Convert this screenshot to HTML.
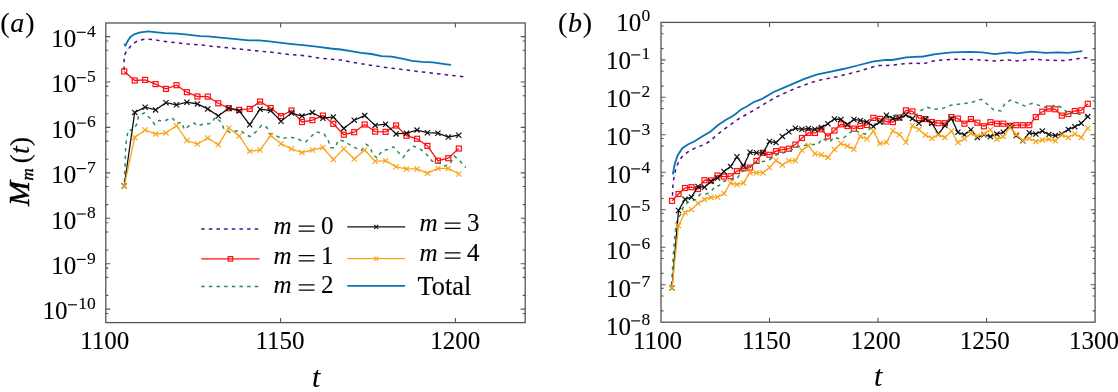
<!DOCTYPE html><html><head><meta charset="utf-8"><style>html,body{margin:0;padding:0;background:#fff;}svg{display:block;will-change:transform;}text{font-family:"Liberation Serif",serif;fill:#000;stroke:#000;stroke-width:0.12px;}text.nb{stroke:#000;stroke-width:0.45px;}</style></head><body>
<svg width="1118" height="392" viewBox="0 0 1118 392">
<rect x="105.8" y="23.0" width="419.40" height="299.60" fill="none" stroke="#555" stroke-width="1.3"/>
<path d="M105.8,309.1h4.5M525.2,309.1h-4.5" stroke="#555" stroke-width="1.1"/>
<path d="M105.8,313.5h2.5M525.2,313.5h-2.5" stroke="#555" stroke-width="1.1"/>
<path d="M105.8,263.7h4.5M525.2,263.7h-4.5" stroke="#555" stroke-width="1.1"/>
<path d="M105.8,268.1h2.5M525.2,268.1h-2.5" stroke="#555" stroke-width="1.1"/>
<path d="M105.8,277.4h2.5M525.2,277.4h-2.5" stroke="#555" stroke-width="1.1"/>
<path d="M105.8,295.4h2.5M525.2,295.4h-2.5" stroke="#555" stroke-width="1.1"/>
<path d="M105.8,218.3h4.5M525.2,218.3h-4.5" stroke="#555" stroke-width="1.1"/>
<path d="M105.8,222.7h2.5M525.2,222.7h-2.5" stroke="#555" stroke-width="1.1"/>
<path d="M105.8,232.0h2.5M525.2,232.0h-2.5" stroke="#555" stroke-width="1.1"/>
<path d="M105.8,250.0h2.5M525.2,250.0h-2.5" stroke="#555" stroke-width="1.1"/>
<path d="M105.8,172.9h4.5M525.2,172.9h-4.5" stroke="#555" stroke-width="1.1"/>
<path d="M105.8,177.3h2.5M525.2,177.3h-2.5" stroke="#555" stroke-width="1.1"/>
<path d="M105.8,186.5h2.5M525.2,186.5h-2.5" stroke="#555" stroke-width="1.1"/>
<path d="M105.8,204.6h2.5M525.2,204.6h-2.5" stroke="#555" stroke-width="1.1"/>
<path d="M105.8,127.4h4.5M525.2,127.4h-4.5" stroke="#555" stroke-width="1.1"/>
<path d="M105.8,131.8h2.5M525.2,131.8h-2.5" stroke="#555" stroke-width="1.1"/>
<path d="M105.8,141.1h2.5M525.2,141.1h-2.5" stroke="#555" stroke-width="1.1"/>
<path d="M105.8,159.2h2.5M525.2,159.2h-2.5" stroke="#555" stroke-width="1.1"/>
<path d="M105.8,82.0h4.5M525.2,82.0h-4.5" stroke="#555" stroke-width="1.1"/>
<path d="M105.8,86.4h2.5M525.2,86.4h-2.5" stroke="#555" stroke-width="1.1"/>
<path d="M105.8,95.7h2.5M525.2,95.7h-2.5" stroke="#555" stroke-width="1.1"/>
<path d="M105.8,113.8h2.5M525.2,113.8h-2.5" stroke="#555" stroke-width="1.1"/>
<path d="M105.8,36.6h4.5M525.2,36.6h-4.5" stroke="#555" stroke-width="1.1"/>
<path d="M105.8,41.0h2.5M525.2,41.0h-2.5" stroke="#555" stroke-width="1.1"/>
<path d="M105.8,50.3h2.5M525.2,50.3h-2.5" stroke="#555" stroke-width="1.1"/>
<path d="M105.8,68.3h2.5M525.2,68.3h-2.5" stroke="#555" stroke-width="1.1"/>
<path d="M280.6,322.6v-4.5M280.6,23.0v4.5" stroke="#555" stroke-width="1.1"/>
<path d="M455.4,322.6v-4.5M455.4,23.0v4.5" stroke="#555" stroke-width="1.1"/>
<rect x="661.0" y="22.4" width="434.10" height="299.80" fill="none" stroke="#555" stroke-width="1.3"/>
<path d="M661.0,284.7h4.5M1095.1,284.7h-4.5" stroke="#555" stroke-width="1.1"/>
<path d="M661.0,288.4h2.5M1095.1,288.4h-2.5" stroke="#555" stroke-width="1.1"/>
<path d="M661.0,296.0h2.5M1095.1,296.0h-2.5" stroke="#555" stroke-width="1.1"/>
<path d="M661.0,310.9h2.5M1095.1,310.9h-2.5" stroke="#555" stroke-width="1.1"/>
<path d="M661.0,247.3h4.5M1095.1,247.3h-4.5" stroke="#555" stroke-width="1.1"/>
<path d="M661.0,250.9h2.5M1095.1,250.9h-2.5" stroke="#555" stroke-width="1.1"/>
<path d="M661.0,258.5h2.5M1095.1,258.5h-2.5" stroke="#555" stroke-width="1.1"/>
<path d="M661.0,273.4h2.5M1095.1,273.4h-2.5" stroke="#555" stroke-width="1.1"/>
<path d="M661.0,209.8h4.5M1095.1,209.8h-4.5" stroke="#555" stroke-width="1.1"/>
<path d="M661.0,213.4h2.5M1095.1,213.4h-2.5" stroke="#555" stroke-width="1.1"/>
<path d="M661.0,221.1h2.5M1095.1,221.1h-2.5" stroke="#555" stroke-width="1.1"/>
<path d="M661.0,236.0h2.5M1095.1,236.0h-2.5" stroke="#555" stroke-width="1.1"/>
<path d="M661.0,172.3h4.5M1095.1,172.3h-4.5" stroke="#555" stroke-width="1.1"/>
<path d="M661.0,175.9h2.5M1095.1,175.9h-2.5" stroke="#555" stroke-width="1.1"/>
<path d="M661.0,183.6h2.5M1095.1,183.6h-2.5" stroke="#555" stroke-width="1.1"/>
<path d="M661.0,198.5h2.5M1095.1,198.5h-2.5" stroke="#555" stroke-width="1.1"/>
<path d="M661.0,134.8h4.5M1095.1,134.8h-4.5" stroke="#555" stroke-width="1.1"/>
<path d="M661.0,138.5h2.5M1095.1,138.5h-2.5" stroke="#555" stroke-width="1.1"/>
<path d="M661.0,146.1h2.5M1095.1,146.1h-2.5" stroke="#555" stroke-width="1.1"/>
<path d="M661.0,161.0h2.5M1095.1,161.0h-2.5" stroke="#555" stroke-width="1.1"/>
<path d="M661.0,97.3h4.5M1095.1,97.3h-4.5" stroke="#555" stroke-width="1.1"/>
<path d="M661.0,101.0h2.5M1095.1,101.0h-2.5" stroke="#555" stroke-width="1.1"/>
<path d="M661.0,108.6h2.5M1095.1,108.6h-2.5" stroke="#555" stroke-width="1.1"/>
<path d="M661.0,123.5h2.5M1095.1,123.5h-2.5" stroke="#555" stroke-width="1.1"/>
<path d="M661.0,59.9h4.5M1095.1,59.9h-4.5" stroke="#555" stroke-width="1.1"/>
<path d="M661.0,63.5h2.5M1095.1,63.5h-2.5" stroke="#555" stroke-width="1.1"/>
<path d="M661.0,71.2h2.5M1095.1,71.2h-2.5" stroke="#555" stroke-width="1.1"/>
<path d="M661.0,86.1h2.5M1095.1,86.1h-2.5" stroke="#555" stroke-width="1.1"/>
<path d="M661.0,26.0h2.5M1095.1,26.0h-2.5" stroke="#555" stroke-width="1.1"/>
<path d="M661.0,33.7h2.5M1095.1,33.7h-2.5" stroke="#555" stroke-width="1.1"/>
<path d="M661.0,48.6h2.5M1095.1,48.6h-2.5" stroke="#555" stroke-width="1.1"/>
<path d="M769.5,322.2v-4.5M769.5,22.4v4.5" stroke="#555" stroke-width="1.1"/>
<path d="M878.0,322.2v-4.5M878.0,22.4v4.5" stroke="#555" stroke-width="1.1"/>
<path d="M986.6,322.2v-4.5M986.6,22.4v4.5" stroke="#555" stroke-width="1.1"/>
<polyline points="124.0,70.0 124.1,64.3 124.1,55.9 126.2,51.7 129.0,48.2 131.9,44.7 137.5,40.7 145.9,39.0 154.3,39.7 162.8,41.2 187.6,44.0 205.5,45.4 213.0,46.6 220.7,47.0 228.4,47.9 248.9,50.1 269.3,52.0 289.7,54.6 300.0,55.2 320.4,58.1 340.8,60.1 361.2,63.8 381.6,66.9 402.0,69.5 422.4,72.0 442.9,74.4 466.3,77.1" fill="none" stroke="#4b0c88" stroke-width="1.5" stroke-dasharray="3.5 4.15"/>
<polyline points="124.2,71.4 134.7,80.5 145.1,79.9 155.6,84.1 166.0,88.9 176.5,85.2 186.9,92.2 197.4,96.5 207.8,96.6 218.3,103.3 228.8,108.2 239.2,109.9 249.7,108.9 260.1,101.6 270.6,108.0 281.0,116.1 291.5,110.5 302.0,122.0 312.4,120.2 322.9,115.6 333.3,123.8 343.8,134.7 354.2,132.2 364.7,124.5 375.1,131.6 385.6,131.9 396.1,125.5 406.5,135.7 417.0,138.8 427.4,145.9 437.9,160.7 448.3,158.2 458.8,148.5" fill="none" stroke="#ff1010" stroke-width="1.3"/>
<rect x="121.7" y="68.9" width="5.0" height="5.0" fill="none" stroke="#ff1010" stroke-width="1.2"/><rect x="132.2" y="78.0" width="5.0" height="5.0" fill="none" stroke="#ff1010" stroke-width="1.2"/><rect x="142.6" y="77.4" width="5.0" height="5.0" fill="none" stroke="#ff1010" stroke-width="1.2"/><rect x="153.1" y="81.6" width="5.0" height="5.0" fill="none" stroke="#ff1010" stroke-width="1.2"/><rect x="163.5" y="86.4" width="5.0" height="5.0" fill="none" stroke="#ff1010" stroke-width="1.2"/><rect x="174.0" y="82.7" width="5.0" height="5.0" fill="none" stroke="#ff1010" stroke-width="1.2"/><rect x="184.4" y="89.7" width="5.0" height="5.0" fill="none" stroke="#ff1010" stroke-width="1.2"/><rect x="194.9" y="94.0" width="5.0" height="5.0" fill="none" stroke="#ff1010" stroke-width="1.2"/><rect x="205.3" y="94.1" width="5.0" height="5.0" fill="none" stroke="#ff1010" stroke-width="1.2"/><rect x="215.8" y="100.8" width="5.0" height="5.0" fill="none" stroke="#ff1010" stroke-width="1.2"/><rect x="226.3" y="105.7" width="5.0" height="5.0" fill="none" stroke="#ff1010" stroke-width="1.2"/><rect x="236.7" y="107.4" width="5.0" height="5.0" fill="none" stroke="#ff1010" stroke-width="1.2"/><rect x="247.2" y="106.4" width="5.0" height="5.0" fill="none" stroke="#ff1010" stroke-width="1.2"/><rect x="257.6" y="99.1" width="5.0" height="5.0" fill="none" stroke="#ff1010" stroke-width="1.2"/><rect x="268.1" y="105.5" width="5.0" height="5.0" fill="none" stroke="#ff1010" stroke-width="1.2"/><rect x="278.5" y="113.6" width="5.0" height="5.0" fill="none" stroke="#ff1010" stroke-width="1.2"/><rect x="289.0" y="108.0" width="5.0" height="5.0" fill="none" stroke="#ff1010" stroke-width="1.2"/><rect x="299.5" y="119.5" width="5.0" height="5.0" fill="none" stroke="#ff1010" stroke-width="1.2"/><rect x="309.9" y="117.7" width="5.0" height="5.0" fill="none" stroke="#ff1010" stroke-width="1.2"/><rect x="320.4" y="113.1" width="5.0" height="5.0" fill="none" stroke="#ff1010" stroke-width="1.2"/><rect x="330.8" y="121.3" width="5.0" height="5.0" fill="none" stroke="#ff1010" stroke-width="1.2"/><rect x="341.3" y="132.2" width="5.0" height="5.0" fill="none" stroke="#ff1010" stroke-width="1.2"/><rect x="351.7" y="129.7" width="5.0" height="5.0" fill="none" stroke="#ff1010" stroke-width="1.2"/><rect x="362.2" y="122.0" width="5.0" height="5.0" fill="none" stroke="#ff1010" stroke-width="1.2"/><rect x="372.6" y="129.1" width="5.0" height="5.0" fill="none" stroke="#ff1010" stroke-width="1.2"/><rect x="383.1" y="129.4" width="5.0" height="5.0" fill="none" stroke="#ff1010" stroke-width="1.2"/><rect x="393.6" y="123.0" width="5.0" height="5.0" fill="none" stroke="#ff1010" stroke-width="1.2"/><rect x="404.0" y="133.2" width="5.0" height="5.0" fill="none" stroke="#ff1010" stroke-width="1.2"/><rect x="414.5" y="136.3" width="5.0" height="5.0" fill="none" stroke="#ff1010" stroke-width="1.2"/><rect x="424.9" y="143.4" width="5.0" height="5.0" fill="none" stroke="#ff1010" stroke-width="1.2"/><rect x="435.4" y="158.2" width="5.0" height="5.0" fill="none" stroke="#ff1010" stroke-width="1.2"/><rect x="445.8" y="155.7" width="5.0" height="5.0" fill="none" stroke="#ff1010" stroke-width="1.2"/><rect x="456.3" y="146.0" width="5.0" height="5.0" fill="none" stroke="#ff1010" stroke-width="1.2"/>
<polyline points="124.5,182.0 125.7,145.3 126.9,137.7 128.2,130.0 133.3,130.0 137.2,123.6 138.4,116.0 144.2,112.8 150.1,118.3 154.7,124.4 159.3,120.3 161.3,121.3 165.9,120.3 172.0,117.8 177.1,123.4 181.7,122.3 184.3,129.5 188.4,126.4 194.0,122.9 197.6,125.9 204.1,123.9 211.2,123.4 215.3,117.2 220.9,121.8 224.0,129.0 230.6,132.6 233.7,131.7 239.8,130.0 245.9,134.6 250.0,136.6 256.5,131.3 261.6,125.2 266.7,127.2 269.8,133.4 276.4,135.9 281.5,138.5 288.2,137.4 295.3,137.7 301.0,140.5 305.6,142.0 310.7,136.9 316.3,131.8 324.0,133.9 328.1,140.0 330.6,147.7 335.2,147.7 338.3,140.0 341.8,140.5 348.0,143.6 354.8,147.6 361.4,150.4 366.0,144.3 370.1,146.8 372.7,154.5 377.2,158.1 381.8,150.9 388.0,149.4 393.6,146.8 397.6,151.6 403.3,157.3 407.8,150.9 414.1,146.2 421.1,149.7 426.9,154.8 432.0,161.1 438.4,162.4 443.5,166.3 449.8,164.3 454.3,156.0 459.4,160.5 465.7,167.6" fill="none" stroke="#2a8a55" stroke-width="1.5" stroke-dasharray="3.5 4.15"/>
<polyline points="124.2,186.0 134.7,112.4 145.1,107.2 155.6,109.9 166.0,102.7 176.5,104.8 186.9,102.2 197.4,104.0 207.8,108.9 218.3,116.0 228.8,108.2 239.2,110.9 249.7,124.7 260.1,109.2 270.6,110.5 281.0,121.2 291.5,113.1 302.0,116.1 312.4,112.6 322.9,118.2 333.3,116.9 343.8,128.4 354.2,120.2 364.7,115.6 375.1,125.4 385.6,124.2 396.1,133.9 406.5,133.2 417.0,130.1 427.4,132.7 437.9,133.2 448.3,137.0 458.8,135.2" fill="none" stroke="#111" stroke-width="1.3"/>
<path d="M121.6,183.4L126.8,188.6M121.6,188.6L126.8,183.4" stroke="#111" stroke-width="1.2" fill="none"/><path d="M132.1,109.8L137.3,115.0M132.1,115.0L137.3,109.8" stroke="#111" stroke-width="1.2" fill="none"/><path d="M142.5,104.6L147.7,109.8M142.5,109.8L147.7,104.6" stroke="#111" stroke-width="1.2" fill="none"/><path d="M153.0,107.3L158.2,112.5M153.0,112.5L158.2,107.3" stroke="#111" stroke-width="1.2" fill="none"/><path d="M163.4,100.1L168.6,105.3M163.4,105.3L168.6,100.1" stroke="#111" stroke-width="1.2" fill="none"/><path d="M173.9,102.2L179.1,107.4M173.9,107.4L179.1,102.2" stroke="#111" stroke-width="1.2" fill="none"/><path d="M184.3,99.6L189.5,104.8M184.3,104.8L189.5,99.6" stroke="#111" stroke-width="1.2" fill="none"/><path d="M194.8,101.4L200.0,106.6M194.8,106.6L200.0,101.4" stroke="#111" stroke-width="1.2" fill="none"/><path d="M205.2,106.3L210.4,111.5M205.2,111.5L210.4,106.3" stroke="#111" stroke-width="1.2" fill="none"/><path d="M215.7,113.4L220.9,118.6M215.7,118.6L220.9,113.4" stroke="#111" stroke-width="1.2" fill="none"/><path d="M226.2,105.6L231.4,110.8M226.2,110.8L231.4,105.6" stroke="#111" stroke-width="1.2" fill="none"/><path d="M236.6,108.3L241.8,113.5M236.6,113.5L241.8,108.3" stroke="#111" stroke-width="1.2" fill="none"/><path d="M247.1,122.1L252.3,127.3M247.1,127.3L252.3,122.1" stroke="#111" stroke-width="1.2" fill="none"/><path d="M257.5,106.6L262.7,111.8M257.5,111.8L262.7,106.6" stroke="#111" stroke-width="1.2" fill="none"/><path d="M268.0,107.9L273.2,113.1M268.0,113.1L273.2,107.9" stroke="#111" stroke-width="1.2" fill="none"/><path d="M278.4,118.6L283.6,123.8M278.4,123.8L283.6,118.6" stroke="#111" stroke-width="1.2" fill="none"/><path d="M288.9,110.5L294.1,115.7M288.9,115.7L294.1,110.5" stroke="#111" stroke-width="1.2" fill="none"/><path d="M299.4,113.5L304.6,118.7M299.4,118.7L304.6,113.5" stroke="#111" stroke-width="1.2" fill="none"/><path d="M309.8,110.0L315.0,115.2M309.8,115.2L315.0,110.0" stroke="#111" stroke-width="1.2" fill="none"/><path d="M320.3,115.6L325.5,120.8M320.3,120.8L325.5,115.6" stroke="#111" stroke-width="1.2" fill="none"/><path d="M330.7,114.3L335.9,119.5M330.7,119.5L335.9,114.3" stroke="#111" stroke-width="1.2" fill="none"/><path d="M341.2,125.8L346.4,131.0M341.2,131.0L346.4,125.8" stroke="#111" stroke-width="1.2" fill="none"/><path d="M351.6,117.6L356.8,122.8M351.6,122.8L356.8,117.6" stroke="#111" stroke-width="1.2" fill="none"/><path d="M362.1,113.0L367.3,118.2M362.1,118.2L367.3,113.0" stroke="#111" stroke-width="1.2" fill="none"/><path d="M372.5,122.8L377.7,128.0M372.5,128.0L377.7,122.8" stroke="#111" stroke-width="1.2" fill="none"/><path d="M383.0,121.6L388.2,126.8M383.0,126.8L388.2,121.6" stroke="#111" stroke-width="1.2" fill="none"/><path d="M393.5,131.3L398.7,136.5M393.5,136.5L398.7,131.3" stroke="#111" stroke-width="1.2" fill="none"/><path d="M403.9,130.6L409.1,135.8M403.9,135.8L409.1,130.6" stroke="#111" stroke-width="1.2" fill="none"/><path d="M414.4,127.5L419.6,132.7M414.4,132.7L419.6,127.5" stroke="#111" stroke-width="1.2" fill="none"/><path d="M424.8,130.1L430.0,135.3M424.8,135.3L430.0,130.1" stroke="#111" stroke-width="1.2" fill="none"/><path d="M435.3,130.6L440.5,135.8M435.3,135.8L440.5,130.6" stroke="#111" stroke-width="1.2" fill="none"/><path d="M445.7,134.4L450.9,139.6M445.7,139.6L450.9,134.4" stroke="#111" stroke-width="1.2" fill="none"/><path d="M456.2,132.6L461.4,137.8M456.2,137.8L461.4,132.6" stroke="#111" stroke-width="1.2" fill="none"/>
<polyline points="124.2,186.3 134.7,137.4 145.1,129.9 155.6,134.1 166.0,132.9 176.5,125.7 186.9,140.5 197.4,144.1 207.8,138.0 218.3,144.8 228.8,128.0 239.2,135.9 249.7,151.3 260.1,150.0 270.6,135.5 281.0,143.7 291.5,148.8 302.0,152.6 312.4,150.0 322.9,147.5 333.3,159.5 343.8,148.8 354.2,159.0 364.7,150.0 375.1,161.3 385.6,160.7 396.1,166.8 406.5,168.9 417.0,168.9 427.4,173.2 437.9,168.4 448.3,168.4 458.8,174.0" fill="none" stroke="#f9a51a" stroke-width="1.3"/>
<path d="M121.6,183.7L126.8,188.9M121.6,188.9L126.8,183.7" stroke="#f9a51a" stroke-width="1.2" fill="none"/><path d="M132.1,134.8L137.3,140.0M132.1,140.0L137.3,134.8" stroke="#f9a51a" stroke-width="1.2" fill="none"/><path d="M142.5,127.3L147.7,132.5M142.5,132.5L147.7,127.3" stroke="#f9a51a" stroke-width="1.2" fill="none"/><path d="M153.0,131.5L158.2,136.7M153.0,136.7L158.2,131.5" stroke="#f9a51a" stroke-width="1.2" fill="none"/><path d="M163.4,130.3L168.6,135.5M163.4,135.5L168.6,130.3" stroke="#f9a51a" stroke-width="1.2" fill="none"/><path d="M173.9,123.1L179.1,128.3M173.9,128.3L179.1,123.1" stroke="#f9a51a" stroke-width="1.2" fill="none"/><path d="M184.3,137.9L189.5,143.1M184.3,143.1L189.5,137.9" stroke="#f9a51a" stroke-width="1.2" fill="none"/><path d="M194.8,141.5L200.0,146.7M194.8,146.7L200.0,141.5" stroke="#f9a51a" stroke-width="1.2" fill="none"/><path d="M205.2,135.4L210.4,140.6M205.2,140.6L210.4,135.4" stroke="#f9a51a" stroke-width="1.2" fill="none"/><path d="M215.7,142.2L220.9,147.4M215.7,147.4L220.9,142.2" stroke="#f9a51a" stroke-width="1.2" fill="none"/><path d="M226.2,125.4L231.4,130.6M226.2,130.6L231.4,125.4" stroke="#f9a51a" stroke-width="1.2" fill="none"/><path d="M236.6,133.3L241.8,138.5M236.6,138.5L241.8,133.3" stroke="#f9a51a" stroke-width="1.2" fill="none"/><path d="M247.1,148.7L252.3,153.9M247.1,153.9L252.3,148.7" stroke="#f9a51a" stroke-width="1.2" fill="none"/><path d="M257.5,147.4L262.7,152.6M257.5,152.6L262.7,147.4" stroke="#f9a51a" stroke-width="1.2" fill="none"/><path d="M268.0,132.9L273.2,138.1M268.0,138.1L273.2,132.9" stroke="#f9a51a" stroke-width="1.2" fill="none"/><path d="M278.4,141.1L283.6,146.3M278.4,146.3L283.6,141.1" stroke="#f9a51a" stroke-width="1.2" fill="none"/><path d="M288.9,146.2L294.1,151.4M288.9,151.4L294.1,146.2" stroke="#f9a51a" stroke-width="1.2" fill="none"/><path d="M299.4,150.0L304.6,155.2M299.4,155.2L304.6,150.0" stroke="#f9a51a" stroke-width="1.2" fill="none"/><path d="M309.8,147.4L315.0,152.6M309.8,152.6L315.0,147.4" stroke="#f9a51a" stroke-width="1.2" fill="none"/><path d="M320.3,144.9L325.5,150.1M320.3,150.1L325.5,144.9" stroke="#f9a51a" stroke-width="1.2" fill="none"/><path d="M330.7,156.9L335.9,162.1M330.7,162.1L335.9,156.9" stroke="#f9a51a" stroke-width="1.2" fill="none"/><path d="M341.2,146.2L346.4,151.4M341.2,151.4L346.4,146.2" stroke="#f9a51a" stroke-width="1.2" fill="none"/><path d="M351.6,156.4L356.8,161.6M351.6,161.6L356.8,156.4" stroke="#f9a51a" stroke-width="1.2" fill="none"/><path d="M362.1,147.4L367.3,152.6M362.1,152.6L367.3,147.4" stroke="#f9a51a" stroke-width="1.2" fill="none"/><path d="M372.5,158.7L377.7,163.9M372.5,163.9L377.7,158.7" stroke="#f9a51a" stroke-width="1.2" fill="none"/><path d="M383.0,158.1L388.2,163.3M383.0,163.3L388.2,158.1" stroke="#f9a51a" stroke-width="1.2" fill="none"/><path d="M393.5,164.2L398.7,169.4M393.5,169.4L398.7,164.2" stroke="#f9a51a" stroke-width="1.2" fill="none"/><path d="M403.9,166.3L409.1,171.5M403.9,171.5L409.1,166.3" stroke="#f9a51a" stroke-width="1.2" fill="none"/><path d="M414.4,166.3L419.6,171.5M414.4,171.5L419.6,166.3" stroke="#f9a51a" stroke-width="1.2" fill="none"/><path d="M424.8,170.6L430.0,175.8M424.8,175.8L430.0,170.6" stroke="#f9a51a" stroke-width="1.2" fill="none"/><path d="M435.3,165.8L440.5,171.0M435.3,171.0L440.5,165.8" stroke="#f9a51a" stroke-width="1.2" fill="none"/><path d="M445.7,165.8L450.9,171.0M445.7,171.0L450.9,165.8" stroke="#f9a51a" stroke-width="1.2" fill="none"/><path d="M456.2,171.4L461.4,176.6M456.2,176.6L461.4,171.4" stroke="#f9a51a" stroke-width="1.2" fill="none"/>
<polyline points="124.1,44.0 125.5,45.4 127.6,41.2 130.4,36.9 134.7,34.1 140.3,32.3 148.7,31.3 157.1,32.3 165.0,33.1 177.4,33.6 187.6,34.6 200.0,36.1 208.0,36.3 228.4,38.3 248.9,40.3 259.1,40.3 269.3,41.4 289.7,43.8 300.0,44.8 310.2,45.9 320.4,47.1 330.6,48.5 340.8,49.5 351.0,51.2 361.2,52.8 371.4,54.0 381.6,56.1 391.8,56.7 402.0,58.7 412.2,60.8 422.4,61.8 432.7,62.4 442.9,63.8 451.0,64.8" fill="none" stroke="#0a72b4" stroke-width="1.8"/>
<polyline points="672.5,195.6 672.9,186.0 673.5,180.0 675.8,168.9 679.4,160.0 683.9,154.6 689.2,151.1 696.4,147.5 703.5,144.8 709.8,141.3 717.8,134.1 726.0,127.9 739.1,118.6 755.4,109.4 775.8,97.1 796.2,88.0 816.6,80.8 837.0,76.7 857.4,71.6 877.9,65.5 888.1,65.5 906.4,63.5 915.0,63.1 923.2,63.7 935.4,60.6 955.8,59.2 976.2,59.6 994.6,61.0 1006.8,60.0 1019.1,61.0 1033.4,59.2 1049.7,60.2 1064.0,60.6 1078.3,58.6 1088.5,57.6" fill="none" stroke="#4b0c88" stroke-width="1.5" stroke-dasharray="3.5 4.15"/>
<polyline points="672.0,200.8 678.5,194.0 685.0,188.0 691.5,187.2 698.0,189.0 704.5,180.2 711.0,180.5 717.5,175.5 724.0,176.6 730.5,176.2 737.0,171.1 743.5,168.4 750.0,167.6 756.5,160.9 763.0,152.8 769.5,154.8 776.0,151.2 782.4,149.7 788.9,148.7 795.4,144.6 801.9,138.0 808.4,132.9 814.9,132.9 821.4,129.3 827.9,136.4 834.4,130.5 840.9,124.3 847.4,126.0 853.9,128.6 860.4,126.0 866.9,125.0 873.4,117.9 879.9,118.9 886.4,121.5 892.9,122.1 899.4,117.6 905.9,110.4 912.4,111.4 918.9,118.1 925.4,119.1 931.9,122.1 938.4,123.2 944.9,123.2 951.4,117.1 957.9,118.6 964.4,123.7 970.9,119.1 977.4,122.7 983.9,126.3 990.4,122.2 996.9,123.7 1003.3,123.7 1009.8,125.8 1016.3,125.2 1022.8,125.2 1029.3,125.2 1035.8,117.1 1042.3,111.7 1048.8,108.6 1055.3,109.3 1061.8,115.6 1068.3,114.0 1074.8,111.0 1081.3,110.4 1087.8,103.8" fill="none" stroke="#ff1010" stroke-width="1.3"/>
<rect x="669.5" y="198.3" width="5.0" height="5.0" fill="none" stroke="#ff1010" stroke-width="1.2"/><rect x="676.0" y="191.5" width="5.0" height="5.0" fill="none" stroke="#ff1010" stroke-width="1.2"/><rect x="682.5" y="185.5" width="5.0" height="5.0" fill="none" stroke="#ff1010" stroke-width="1.2"/><rect x="689.0" y="184.7" width="5.0" height="5.0" fill="none" stroke="#ff1010" stroke-width="1.2"/><rect x="695.5" y="186.5" width="5.0" height="5.0" fill="none" stroke="#ff1010" stroke-width="1.2"/><rect x="702.0" y="177.7" width="5.0" height="5.0" fill="none" stroke="#ff1010" stroke-width="1.2"/><rect x="708.5" y="178.0" width="5.0" height="5.0" fill="none" stroke="#ff1010" stroke-width="1.2"/><rect x="715.0" y="173.0" width="5.0" height="5.0" fill="none" stroke="#ff1010" stroke-width="1.2"/><rect x="721.5" y="174.1" width="5.0" height="5.0" fill="none" stroke="#ff1010" stroke-width="1.2"/><rect x="728.0" y="173.7" width="5.0" height="5.0" fill="none" stroke="#ff1010" stroke-width="1.2"/><rect x="734.5" y="168.6" width="5.0" height="5.0" fill="none" stroke="#ff1010" stroke-width="1.2"/><rect x="741.0" y="165.9" width="5.0" height="5.0" fill="none" stroke="#ff1010" stroke-width="1.2"/><rect x="747.5" y="165.1" width="5.0" height="5.0" fill="none" stroke="#ff1010" stroke-width="1.2"/><rect x="754.0" y="158.4" width="5.0" height="5.0" fill="none" stroke="#ff1010" stroke-width="1.2"/><rect x="760.5" y="150.3" width="5.0" height="5.0" fill="none" stroke="#ff1010" stroke-width="1.2"/><rect x="767.0" y="152.3" width="5.0" height="5.0" fill="none" stroke="#ff1010" stroke-width="1.2"/><rect x="773.5" y="148.7" width="5.0" height="5.0" fill="none" stroke="#ff1010" stroke-width="1.2"/><rect x="779.9" y="147.2" width="5.0" height="5.0" fill="none" stroke="#ff1010" stroke-width="1.2"/><rect x="786.4" y="146.2" width="5.0" height="5.0" fill="none" stroke="#ff1010" stroke-width="1.2"/><rect x="792.9" y="142.1" width="5.0" height="5.0" fill="none" stroke="#ff1010" stroke-width="1.2"/><rect x="799.4" y="135.5" width="5.0" height="5.0" fill="none" stroke="#ff1010" stroke-width="1.2"/><rect x="805.9" y="130.4" width="5.0" height="5.0" fill="none" stroke="#ff1010" stroke-width="1.2"/><rect x="812.4" y="130.4" width="5.0" height="5.0" fill="none" stroke="#ff1010" stroke-width="1.2"/><rect x="818.9" y="126.8" width="5.0" height="5.0" fill="none" stroke="#ff1010" stroke-width="1.2"/><rect x="825.4" y="133.9" width="5.0" height="5.0" fill="none" stroke="#ff1010" stroke-width="1.2"/><rect x="831.9" y="128.0" width="5.0" height="5.0" fill="none" stroke="#ff1010" stroke-width="1.2"/><rect x="838.4" y="121.8" width="5.0" height="5.0" fill="none" stroke="#ff1010" stroke-width="1.2"/><rect x="844.9" y="123.5" width="5.0" height="5.0" fill="none" stroke="#ff1010" stroke-width="1.2"/><rect x="851.4" y="126.1" width="5.0" height="5.0" fill="none" stroke="#ff1010" stroke-width="1.2"/><rect x="857.9" y="123.5" width="5.0" height="5.0" fill="none" stroke="#ff1010" stroke-width="1.2"/><rect x="864.4" y="122.5" width="5.0" height="5.0" fill="none" stroke="#ff1010" stroke-width="1.2"/><rect x="870.9" y="115.4" width="5.0" height="5.0" fill="none" stroke="#ff1010" stroke-width="1.2"/><rect x="877.4" y="116.4" width="5.0" height="5.0" fill="none" stroke="#ff1010" stroke-width="1.2"/><rect x="883.9" y="119.0" width="5.0" height="5.0" fill="none" stroke="#ff1010" stroke-width="1.2"/><rect x="890.4" y="119.6" width="5.0" height="5.0" fill="none" stroke="#ff1010" stroke-width="1.2"/><rect x="896.9" y="115.1" width="5.0" height="5.0" fill="none" stroke="#ff1010" stroke-width="1.2"/><rect x="903.4" y="107.9" width="5.0" height="5.0" fill="none" stroke="#ff1010" stroke-width="1.2"/><rect x="909.9" y="108.9" width="5.0" height="5.0" fill="none" stroke="#ff1010" stroke-width="1.2"/><rect x="916.4" y="115.6" width="5.0" height="5.0" fill="none" stroke="#ff1010" stroke-width="1.2"/><rect x="922.9" y="116.6" width="5.0" height="5.0" fill="none" stroke="#ff1010" stroke-width="1.2"/><rect x="929.4" y="119.6" width="5.0" height="5.0" fill="none" stroke="#ff1010" stroke-width="1.2"/><rect x="935.9" y="120.7" width="5.0" height="5.0" fill="none" stroke="#ff1010" stroke-width="1.2"/><rect x="942.4" y="120.7" width="5.0" height="5.0" fill="none" stroke="#ff1010" stroke-width="1.2"/><rect x="948.9" y="114.6" width="5.0" height="5.0" fill="none" stroke="#ff1010" stroke-width="1.2"/><rect x="955.4" y="116.1" width="5.0" height="5.0" fill="none" stroke="#ff1010" stroke-width="1.2"/><rect x="961.9" y="121.2" width="5.0" height="5.0" fill="none" stroke="#ff1010" stroke-width="1.2"/><rect x="968.4" y="116.6" width="5.0" height="5.0" fill="none" stroke="#ff1010" stroke-width="1.2"/><rect x="974.9" y="120.2" width="5.0" height="5.0" fill="none" stroke="#ff1010" stroke-width="1.2"/><rect x="981.4" y="123.8" width="5.0" height="5.0" fill="none" stroke="#ff1010" stroke-width="1.2"/><rect x="987.9" y="119.7" width="5.0" height="5.0" fill="none" stroke="#ff1010" stroke-width="1.2"/><rect x="994.4" y="121.2" width="5.0" height="5.0" fill="none" stroke="#ff1010" stroke-width="1.2"/><rect x="1000.8" y="121.2" width="5.0" height="5.0" fill="none" stroke="#ff1010" stroke-width="1.2"/><rect x="1007.3" y="123.3" width="5.0" height="5.0" fill="none" stroke="#ff1010" stroke-width="1.2"/><rect x="1013.8" y="122.7" width="5.0" height="5.0" fill="none" stroke="#ff1010" stroke-width="1.2"/><rect x="1020.3" y="122.7" width="5.0" height="5.0" fill="none" stroke="#ff1010" stroke-width="1.2"/><rect x="1026.8" y="122.7" width="5.0" height="5.0" fill="none" stroke="#ff1010" stroke-width="1.2"/><rect x="1033.3" y="114.6" width="5.0" height="5.0" fill="none" stroke="#ff1010" stroke-width="1.2"/><rect x="1039.8" y="109.2" width="5.0" height="5.0" fill="none" stroke="#ff1010" stroke-width="1.2"/><rect x="1046.3" y="106.1" width="5.0" height="5.0" fill="none" stroke="#ff1010" stroke-width="1.2"/><rect x="1052.8" y="106.8" width="5.0" height="5.0" fill="none" stroke="#ff1010" stroke-width="1.2"/><rect x="1059.3" y="113.1" width="5.0" height="5.0" fill="none" stroke="#ff1010" stroke-width="1.2"/><rect x="1065.8" y="111.5" width="5.0" height="5.0" fill="none" stroke="#ff1010" stroke-width="1.2"/><rect x="1072.3" y="108.5" width="5.0" height="5.0" fill="none" stroke="#ff1010" stroke-width="1.2"/><rect x="1078.8" y="107.9" width="5.0" height="5.0" fill="none" stroke="#ff1010" stroke-width="1.2"/><rect x="1085.3" y="101.3" width="5.0" height="5.0" fill="none" stroke="#ff1010" stroke-width="1.2"/>
<polyline points="671.5,285.0 672.5,270.0 674.0,245.0 676.2,223.3 680.3,214.6 684.0,205.0 690.0,201.0 695.6,199.8 700.2,194.2 705.8,194.2 710.9,191.6 715.4,185.8 719.0,185.8 723.6,181.2 729.0,180.5 733.0,179.5 737.3,178.8 740.4,172.7 745.0,169.6 752.1,164.5 757.7,161.9 763.3,161.4 769.4,159.9 775.1,155.3 780.7,153.8 790.2,150.7 796.4,147.1 802.5,145.6 811.7,144.6 817.8,144.6 822.4,138.5 830.0,142.0 834.0,137.2 839.1,138.8 844.7,137.2 849.8,132.7 854.4,130.1 859.0,132.1 865.1,134.2 870.2,128.1 874.8,124.0 881.5,124.5 886.3,117.5 898.3,114.5 905.4,114.5 910.5,117.5 917.7,114.0 921.2,110.4 927.3,107.3 934.0,109.4 942.3,108.6 950.7,105.3 958.4,104.3 966.0,103.3 973.7,101.8 981.3,99.4 987.4,104.3 993.6,109.9 1001.1,111.0 1004.7,103.8 1010.3,100.2 1018.0,103.1 1024.6,105.9 1032.2,103.3 1040.9,105.9 1048.1,107.9 1055.7,104.8 1063.4,108.4 1068.5,114.5 1074.6,112.5 1078.7,114.0 1085.8,116.1 1092.4,115.6" fill="none" stroke="#2a8a55" stroke-width="1.5" stroke-dasharray="3.5 4.15"/>
<polyline points="672.0,288.0 678.5,210.5 685.0,199.3 691.5,197.2 698.0,186.5 704.5,187.2 711.0,181.4 717.5,178.0 724.0,171.5 730.5,166.5 737.0,156.8 743.5,166.0 750.0,152.2 756.5,152.8 763.0,152.8 769.5,141.5 776.0,142.6 782.4,136.4 788.9,131.8 795.4,128.3 801.9,129.3 808.4,128.5 814.9,129.3 821.4,127.4 827.9,123.7 834.4,119.0 840.9,119.4 847.4,124.5 853.9,119.4 860.4,120.4 866.9,121.9 873.4,126.5 879.9,121.9 886.4,115.2 892.9,118.6 899.4,118.1 905.9,115.0 912.4,118.6 918.9,123.2 925.4,119.1 931.9,123.2 938.4,134.1 944.9,125.5 951.4,118.5 957.9,132.3 964.4,134.8 970.9,129.7 977.4,137.4 983.9,134.8 990.4,136.6 996.9,134.1 1003.3,132.3 1009.8,125.9 1016.3,135.6 1022.8,140.8 1029.3,132.8 1035.8,134.0 1042.3,131.0 1048.8,134.6 1055.3,135.6 1061.8,134.0 1068.3,129.4 1074.8,126.8 1081.3,123.2 1087.8,116.6" fill="none" stroke="#111" stroke-width="1.3"/>
<path d="M669.4,285.4L674.6,290.6M669.4,290.6L674.6,285.4" stroke="#111" stroke-width="1.2" fill="none"/><path d="M675.9,207.9L681.1,213.1M675.9,213.1L681.1,207.9" stroke="#111" stroke-width="1.2" fill="none"/><path d="M682.4,196.7L687.6,201.9M682.4,201.9L687.6,196.7" stroke="#111" stroke-width="1.2" fill="none"/><path d="M688.9,194.6L694.1,199.8M688.9,199.8L694.1,194.6" stroke="#111" stroke-width="1.2" fill="none"/><path d="M695.4,183.9L700.6,189.1M695.4,189.1L700.6,183.9" stroke="#111" stroke-width="1.2" fill="none"/><path d="M701.9,184.6L707.1,189.8M701.9,189.8L707.1,184.6" stroke="#111" stroke-width="1.2" fill="none"/><path d="M708.4,178.8L713.6,184.0M708.4,184.0L713.6,178.8" stroke="#111" stroke-width="1.2" fill="none"/><path d="M714.9,175.4L720.1,180.6M714.9,180.6L720.1,175.4" stroke="#111" stroke-width="1.2" fill="none"/><path d="M721.4,168.9L726.6,174.1M721.4,174.1L726.6,168.9" stroke="#111" stroke-width="1.2" fill="none"/><path d="M727.9,163.9L733.1,169.1M727.9,169.1L733.1,163.9" stroke="#111" stroke-width="1.2" fill="none"/><path d="M734.4,154.2L739.6,159.4M734.4,159.4L739.6,154.2" stroke="#111" stroke-width="1.2" fill="none"/><path d="M740.9,163.4L746.1,168.6M740.9,168.6L746.1,163.4" stroke="#111" stroke-width="1.2" fill="none"/><path d="M747.4,149.6L752.6,154.8M747.4,154.8L752.6,149.6" stroke="#111" stroke-width="1.2" fill="none"/><path d="M753.9,150.2L759.1,155.4M753.9,155.4L759.1,150.2" stroke="#111" stroke-width="1.2" fill="none"/><path d="M760.4,150.2L765.6,155.4M760.4,155.4L765.6,150.2" stroke="#111" stroke-width="1.2" fill="none"/><path d="M766.9,138.9L772.1,144.1M766.9,144.1L772.1,138.9" stroke="#111" stroke-width="1.2" fill="none"/><path d="M773.4,140.0L778.6,145.2M773.4,145.2L778.6,140.0" stroke="#111" stroke-width="1.2" fill="none"/><path d="M779.8,133.8L785.0,139.0M779.8,139.0L785.0,133.8" stroke="#111" stroke-width="1.2" fill="none"/><path d="M786.3,129.2L791.5,134.4M786.3,134.4L791.5,129.2" stroke="#111" stroke-width="1.2" fill="none"/><path d="M792.8,125.7L798.0,130.9M792.8,130.9L798.0,125.7" stroke="#111" stroke-width="1.2" fill="none"/><path d="M799.3,126.7L804.5,131.9M799.3,131.9L804.5,126.7" stroke="#111" stroke-width="1.2" fill="none"/><path d="M805.8,125.9L811.0,131.1M805.8,131.1L811.0,125.9" stroke="#111" stroke-width="1.2" fill="none"/><path d="M812.3,126.7L817.5,131.9M812.3,131.9L817.5,126.7" stroke="#111" stroke-width="1.2" fill="none"/><path d="M818.8,124.8L824.0,130.0M818.8,130.0L824.0,124.8" stroke="#111" stroke-width="1.2" fill="none"/><path d="M825.3,121.1L830.5,126.3M825.3,126.3L830.5,121.1" stroke="#111" stroke-width="1.2" fill="none"/><path d="M831.8,116.4L837.0,121.6M831.8,121.6L837.0,116.4" stroke="#111" stroke-width="1.2" fill="none"/><path d="M838.3,116.8L843.5,122.0M838.3,122.0L843.5,116.8" stroke="#111" stroke-width="1.2" fill="none"/><path d="M844.8,121.9L850.0,127.1M844.8,127.1L850.0,121.9" stroke="#111" stroke-width="1.2" fill="none"/><path d="M851.3,116.8L856.5,122.0M851.3,122.0L856.5,116.8" stroke="#111" stroke-width="1.2" fill="none"/><path d="M857.8,117.8L863.0,123.0M857.8,123.0L863.0,117.8" stroke="#111" stroke-width="1.2" fill="none"/><path d="M864.3,119.3L869.5,124.5M864.3,124.5L869.5,119.3" stroke="#111" stroke-width="1.2" fill="none"/><path d="M870.8,123.9L876.0,129.1M870.8,129.1L876.0,123.9" stroke="#111" stroke-width="1.2" fill="none"/><path d="M877.3,119.3L882.5,124.5M877.3,124.5L882.5,119.3" stroke="#111" stroke-width="1.2" fill="none"/><path d="M883.8,112.6L889.0,117.8M883.8,117.8L889.0,112.6" stroke="#111" stroke-width="1.2" fill="none"/><path d="M890.3,116.0L895.5,121.2M890.3,121.2L895.5,116.0" stroke="#111" stroke-width="1.2" fill="none"/><path d="M896.8,115.5L902.0,120.7M896.8,120.7L902.0,115.5" stroke="#111" stroke-width="1.2" fill="none"/><path d="M903.3,112.4L908.5,117.6M903.3,117.6L908.5,112.4" stroke="#111" stroke-width="1.2" fill="none"/><path d="M909.8,116.0L915.0,121.2M909.8,121.2L915.0,116.0" stroke="#111" stroke-width="1.2" fill="none"/><path d="M916.3,120.6L921.5,125.8M916.3,125.8L921.5,120.6" stroke="#111" stroke-width="1.2" fill="none"/><path d="M922.8,116.5L928.0,121.7M922.8,121.7L928.0,116.5" stroke="#111" stroke-width="1.2" fill="none"/><path d="M929.3,120.6L934.5,125.8M929.3,125.8L934.5,120.6" stroke="#111" stroke-width="1.2" fill="none"/><path d="M935.8,131.5L941.0,136.7M935.8,136.7L941.0,131.5" stroke="#111" stroke-width="1.2" fill="none"/><path d="M942.3,122.9L947.5,128.1M942.3,128.1L947.5,122.9" stroke="#111" stroke-width="1.2" fill="none"/><path d="M948.8,115.9L954.0,121.1M948.8,121.1L954.0,115.9" stroke="#111" stroke-width="1.2" fill="none"/><path d="M955.3,129.7L960.5,134.9M955.3,134.9L960.5,129.7" stroke="#111" stroke-width="1.2" fill="none"/><path d="M961.8,132.2L967.0,137.4M961.8,137.4L967.0,132.2" stroke="#111" stroke-width="1.2" fill="none"/><path d="M968.3,127.1L973.5,132.3M968.3,132.3L973.5,127.1" stroke="#111" stroke-width="1.2" fill="none"/><path d="M974.8,134.8L980.0,140.0M974.8,140.0L980.0,134.8" stroke="#111" stroke-width="1.2" fill="none"/><path d="M981.3,132.2L986.5,137.4M981.3,137.4L986.5,132.2" stroke="#111" stroke-width="1.2" fill="none"/><path d="M987.8,134.0L993.0,139.2M987.8,139.2L993.0,134.0" stroke="#111" stroke-width="1.2" fill="none"/><path d="M994.2,131.5L999.5,136.7M994.2,136.7L999.5,131.5" stroke="#111" stroke-width="1.2" fill="none"/><path d="M1000.7,129.7L1005.9,134.9M1000.7,134.9L1005.9,129.7" stroke="#111" stroke-width="1.2" fill="none"/><path d="M1007.2,123.3L1012.4,128.5M1007.2,128.5L1012.4,123.3" stroke="#111" stroke-width="1.2" fill="none"/><path d="M1013.7,133.0L1018.9,138.2M1013.7,138.2L1018.9,133.0" stroke="#111" stroke-width="1.2" fill="none"/><path d="M1020.2,138.2L1025.4,143.4M1020.2,143.4L1025.4,138.2" stroke="#111" stroke-width="1.2" fill="none"/><path d="M1026.7,130.2L1031.9,135.4M1026.7,135.4L1031.9,130.2" stroke="#111" stroke-width="1.2" fill="none"/><path d="M1033.2,131.4L1038.4,136.6M1033.2,136.6L1038.4,131.4" stroke="#111" stroke-width="1.2" fill="none"/><path d="M1039.7,128.4L1044.9,133.6M1039.7,133.6L1044.9,128.4" stroke="#111" stroke-width="1.2" fill="none"/><path d="M1046.2,132.0L1051.4,137.2M1046.2,137.2L1051.4,132.0" stroke="#111" stroke-width="1.2" fill="none"/><path d="M1052.7,133.0L1057.9,138.2M1052.7,138.2L1057.9,133.0" stroke="#111" stroke-width="1.2" fill="none"/><path d="M1059.2,131.4L1064.4,136.6M1059.2,136.6L1064.4,131.4" stroke="#111" stroke-width="1.2" fill="none"/><path d="M1065.7,126.8L1070.9,132.0M1065.7,132.0L1070.9,126.8" stroke="#111" stroke-width="1.2" fill="none"/><path d="M1072.2,124.2L1077.4,129.4M1072.2,129.4L1077.4,124.2" stroke="#111" stroke-width="1.2" fill="none"/><path d="M1078.7,120.6L1083.9,125.8M1078.7,125.8L1083.9,120.6" stroke="#111" stroke-width="1.2" fill="none"/><path d="M1085.2,114.0L1090.4,119.2M1085.2,119.2L1090.4,114.0" stroke="#111" stroke-width="1.2" fill="none"/>
<polyline points="672.0,288.3 678.5,225.6 685.0,212.6 691.5,209.5 698.0,203.3 704.5,199.4 711.0,197.4 717.5,197.0 724.0,193.5 730.5,183.0 737.0,184.5 743.5,182.9 750.0,172.7 756.5,172.7 763.0,172.7 769.5,167.5 776.0,160.5 782.4,165.0 788.9,160.7 795.4,160.7 801.9,150.2 808.4,145.6 814.9,153.8 821.4,154.8 827.9,157.4 834.4,149.5 840.9,143.6 847.4,146.1 853.9,149.2 860.4,136.3 866.9,139.0 873.4,131.0 879.9,143.6 886.4,142.3 892.9,130.8 899.4,134.6 905.9,142.3 912.4,125.7 918.9,129.5 925.4,135.1 931.9,138.2 938.4,134.8 944.9,137.4 951.4,131.0 957.9,142.5 964.4,138.7 970.9,133.6 977.4,136.1 983.9,134.1 990.4,129.7 996.9,139.2 1003.3,136.6 1009.8,127.2 1016.3,134.6 1022.8,140.6 1029.3,138.5 1035.8,141.5 1042.3,140.1 1048.8,139.2 1055.3,140.8 1061.8,135.1 1068.3,137.4 1074.8,133.9 1081.3,137.4 1087.8,128.2" fill="none" stroke="#f9a51a" stroke-width="1.3"/>
<path d="M669.4,285.7L674.6,290.9M669.4,290.9L674.6,285.7" stroke="#f9a51a" stroke-width="1.2" fill="none"/><path d="M675.9,223.0L681.1,228.2M675.9,228.2L681.1,223.0" stroke="#f9a51a" stroke-width="1.2" fill="none"/><path d="M682.4,210.0L687.6,215.2M682.4,215.2L687.6,210.0" stroke="#f9a51a" stroke-width="1.2" fill="none"/><path d="M688.9,206.9L694.1,212.1M688.9,212.1L694.1,206.9" stroke="#f9a51a" stroke-width="1.2" fill="none"/><path d="M695.4,200.7L700.6,205.9M695.4,205.9L700.6,200.7" stroke="#f9a51a" stroke-width="1.2" fill="none"/><path d="M701.9,196.8L707.1,202.0M701.9,202.0L707.1,196.8" stroke="#f9a51a" stroke-width="1.2" fill="none"/><path d="M708.4,194.8L713.6,200.0M708.4,200.0L713.6,194.8" stroke="#f9a51a" stroke-width="1.2" fill="none"/><path d="M714.9,194.4L720.1,199.6M714.9,199.6L720.1,194.4" stroke="#f9a51a" stroke-width="1.2" fill="none"/><path d="M721.4,190.9L726.6,196.1M721.4,196.1L726.6,190.9" stroke="#f9a51a" stroke-width="1.2" fill="none"/><path d="M727.9,180.4L733.1,185.6M727.9,185.6L733.1,180.4" stroke="#f9a51a" stroke-width="1.2" fill="none"/><path d="M734.4,181.9L739.6,187.1M734.4,187.1L739.6,181.9" stroke="#f9a51a" stroke-width="1.2" fill="none"/><path d="M740.9,180.3L746.1,185.5M740.9,185.5L746.1,180.3" stroke="#f9a51a" stroke-width="1.2" fill="none"/><path d="M747.4,170.1L752.6,175.3M747.4,175.3L752.6,170.1" stroke="#f9a51a" stroke-width="1.2" fill="none"/><path d="M753.9,170.1L759.1,175.3M753.9,175.3L759.1,170.1" stroke="#f9a51a" stroke-width="1.2" fill="none"/><path d="M760.4,170.1L765.6,175.3M760.4,175.3L765.6,170.1" stroke="#f9a51a" stroke-width="1.2" fill="none"/><path d="M766.9,164.9L772.1,170.1M766.9,170.1L772.1,164.9" stroke="#f9a51a" stroke-width="1.2" fill="none"/><path d="M773.4,157.9L778.6,163.1M773.4,163.1L778.6,157.9" stroke="#f9a51a" stroke-width="1.2" fill="none"/><path d="M779.8,162.4L785.0,167.6M779.8,167.6L785.0,162.4" stroke="#f9a51a" stroke-width="1.2" fill="none"/><path d="M786.3,158.1L791.5,163.3M786.3,163.3L791.5,158.1" stroke="#f9a51a" stroke-width="1.2" fill="none"/><path d="M792.8,158.1L798.0,163.3M792.8,163.3L798.0,158.1" stroke="#f9a51a" stroke-width="1.2" fill="none"/><path d="M799.3,147.6L804.5,152.8M799.3,152.8L804.5,147.6" stroke="#f9a51a" stroke-width="1.2" fill="none"/><path d="M805.8,143.0L811.0,148.2M805.8,148.2L811.0,143.0" stroke="#f9a51a" stroke-width="1.2" fill="none"/><path d="M812.3,151.2L817.5,156.4M812.3,156.4L817.5,151.2" stroke="#f9a51a" stroke-width="1.2" fill="none"/><path d="M818.8,152.2L824.0,157.4M818.8,157.4L824.0,152.2" stroke="#f9a51a" stroke-width="1.2" fill="none"/><path d="M825.3,154.8L830.5,160.0M825.3,160.0L830.5,154.8" stroke="#f9a51a" stroke-width="1.2" fill="none"/><path d="M831.8,146.9L837.0,152.1M831.8,152.1L837.0,146.9" stroke="#f9a51a" stroke-width="1.2" fill="none"/><path d="M838.3,141.0L843.5,146.2M838.3,146.2L843.5,141.0" stroke="#f9a51a" stroke-width="1.2" fill="none"/><path d="M844.8,143.5L850.0,148.7M844.8,148.7L850.0,143.5" stroke="#f9a51a" stroke-width="1.2" fill="none"/><path d="M851.3,146.6L856.5,151.8M851.3,151.8L856.5,146.6" stroke="#f9a51a" stroke-width="1.2" fill="none"/><path d="M857.8,133.7L863.0,138.9M857.8,138.9L863.0,133.7" stroke="#f9a51a" stroke-width="1.2" fill="none"/><path d="M864.3,136.4L869.5,141.6M864.3,141.6L869.5,136.4" stroke="#f9a51a" stroke-width="1.2" fill="none"/><path d="M870.8,128.4L876.0,133.6M870.8,133.6L876.0,128.4" stroke="#f9a51a" stroke-width="1.2" fill="none"/><path d="M877.3,141.0L882.5,146.2M877.3,146.2L882.5,141.0" stroke="#f9a51a" stroke-width="1.2" fill="none"/><path d="M883.8,139.7L889.0,144.9M883.8,144.9L889.0,139.7" stroke="#f9a51a" stroke-width="1.2" fill="none"/><path d="M890.3,128.2L895.5,133.4M890.3,133.4L895.5,128.2" stroke="#f9a51a" stroke-width="1.2" fill="none"/><path d="M896.8,132.0L902.0,137.2M896.8,137.2L902.0,132.0" stroke="#f9a51a" stroke-width="1.2" fill="none"/><path d="M903.3,139.7L908.5,144.9M903.3,144.9L908.5,139.7" stroke="#f9a51a" stroke-width="1.2" fill="none"/><path d="M909.8,123.1L915.0,128.3M909.8,128.3L915.0,123.1" stroke="#f9a51a" stroke-width="1.2" fill="none"/><path d="M916.3,126.9L921.5,132.1M916.3,132.1L921.5,126.9" stroke="#f9a51a" stroke-width="1.2" fill="none"/><path d="M922.8,132.5L928.0,137.7M922.8,137.7L928.0,132.5" stroke="#f9a51a" stroke-width="1.2" fill="none"/><path d="M929.3,135.6L934.5,140.8M929.3,140.8L934.5,135.6" stroke="#f9a51a" stroke-width="1.2" fill="none"/><path d="M935.8,132.2L941.0,137.4M935.8,137.4L941.0,132.2" stroke="#f9a51a" stroke-width="1.2" fill="none"/><path d="M942.3,134.8L947.5,140.0M942.3,140.0L947.5,134.8" stroke="#f9a51a" stroke-width="1.2" fill="none"/><path d="M948.8,128.4L954.0,133.6M948.8,133.6L954.0,128.4" stroke="#f9a51a" stroke-width="1.2" fill="none"/><path d="M955.3,139.9L960.5,145.1M955.3,145.1L960.5,139.9" stroke="#f9a51a" stroke-width="1.2" fill="none"/><path d="M961.8,136.1L967.0,141.3M961.8,141.3L967.0,136.1" stroke="#f9a51a" stroke-width="1.2" fill="none"/><path d="M968.3,131.0L973.5,136.2M968.3,136.2L973.5,131.0" stroke="#f9a51a" stroke-width="1.2" fill="none"/><path d="M974.8,133.5L980.0,138.7M974.8,138.7L980.0,133.5" stroke="#f9a51a" stroke-width="1.2" fill="none"/><path d="M981.3,131.5L986.5,136.7M981.3,136.7L986.5,131.5" stroke="#f9a51a" stroke-width="1.2" fill="none"/><path d="M987.8,127.1L993.0,132.3M987.8,132.3L993.0,127.1" stroke="#f9a51a" stroke-width="1.2" fill="none"/><path d="M994.2,136.6L999.5,141.8M994.2,141.8L999.5,136.6" stroke="#f9a51a" stroke-width="1.2" fill="none"/><path d="M1000.7,134.0L1005.9,139.2M1000.7,139.2L1005.9,134.0" stroke="#f9a51a" stroke-width="1.2" fill="none"/><path d="M1007.2,124.6L1012.4,129.8M1007.2,129.8L1012.4,124.6" stroke="#f9a51a" stroke-width="1.2" fill="none"/><path d="M1013.7,132.0L1018.9,137.2M1013.7,137.2L1018.9,132.0" stroke="#f9a51a" stroke-width="1.2" fill="none"/><path d="M1020.2,138.0L1025.4,143.2M1020.2,143.2L1025.4,138.0" stroke="#f9a51a" stroke-width="1.2" fill="none"/><path d="M1026.7,135.9L1031.9,141.1M1026.7,141.1L1031.9,135.9" stroke="#f9a51a" stroke-width="1.2" fill="none"/><path d="M1033.2,138.9L1038.4,144.1M1033.2,144.1L1038.4,138.9" stroke="#f9a51a" stroke-width="1.2" fill="none"/><path d="M1039.7,137.5L1044.9,142.7M1039.7,142.7L1044.9,137.5" stroke="#f9a51a" stroke-width="1.2" fill="none"/><path d="M1046.2,136.6L1051.4,141.8M1046.2,141.8L1051.4,136.6" stroke="#f9a51a" stroke-width="1.2" fill="none"/><path d="M1052.7,138.2L1057.9,143.4M1052.7,143.4L1057.9,138.2" stroke="#f9a51a" stroke-width="1.2" fill="none"/><path d="M1059.2,132.5L1064.4,137.7M1059.2,137.7L1064.4,132.5" stroke="#f9a51a" stroke-width="1.2" fill="none"/><path d="M1065.7,134.8L1070.9,140.0M1065.7,140.0L1070.9,134.8" stroke="#f9a51a" stroke-width="1.2" fill="none"/><path d="M1072.2,131.3L1077.4,136.5M1072.2,136.5L1077.4,131.3" stroke="#f9a51a" stroke-width="1.2" fill="none"/><path d="M1078.7,134.8L1083.9,140.0M1078.7,140.0L1083.9,134.8" stroke="#f9a51a" stroke-width="1.2" fill="none"/><path d="M1085.2,125.6L1090.4,130.8M1085.2,130.8L1090.4,125.6" stroke="#f9a51a" stroke-width="1.2" fill="none"/>
<polyline points="672.8,174.3 674.9,163.6 677.6,155.5 682.1,148.4 687.4,144.8 694.6,141.3 701.7,136.8 710.6,131.4 717.8,125.2 726.0,119.8 731.1,117.0 735.0,114.5 741.1,109.4 747.2,106.3 753.4,102.2 761.5,99.2 773.8,92.0 788.1,85.9 804.4,78.8 816.6,74.7 830.9,71.6 843.2,69.0 857.4,65.5 873.8,61.4 886.0,59.8 892.1,60.0 906.4,57.3 915.0,56.9 923.2,56.5 935.4,54.1 951.7,52.4 970.1,51.8 982.3,52.4 994.6,54.1 1008.9,52.4 1017.0,53.3 1031.3,51.6 1045.6,52.9 1057.9,52.4 1068.1,52.9 1082.3,51.2" fill="none" stroke="#0a72b4" stroke-width="1.8"/>
<path d="M201.2,228.9H259.6" stroke="#4b0c88" stroke-width="1.5" stroke-dasharray="3.5 4.15"/>
<path d="M201.2,258.9H259.6" stroke="#ff1010" stroke-width="1.3"/>
<rect x="228.2" y="256.6" width="4.5" height="4.5" fill="none" stroke="#ff1010" stroke-width="1.2"/>
<path d="M201.2,286.4H259.6" stroke="#2a8a55" stroke-width="1.5" stroke-dasharray="3.5 4.15"/>
<path d="M347.3,226.9H405.1" stroke="#111" stroke-width="1.3"/>
<path d="M374.2,224.9L378.2,228.9M374.2,228.9L378.2,224.9" stroke="#111" stroke-width="1.1" fill="none"/>
<path d="M347.3,258.6H405.1" stroke="#f9a51a" stroke-width="1.3"/>
<path d="M374.2,256.6L378.2,260.6M374.2,260.6L378.2,256.6" stroke="#f9a51a" stroke-width="1.1" fill="none"/>
<path d="M347.3,285.8H405.1" stroke="#0a72b4" stroke-width="1.8"/>
<text x="273.4" y="234.2" font-size="25" font-style="italic">m</text><path d="M298.7,226.0H314.5M298.7,231.2H314.5" stroke="#000" stroke-width="1.25"/><text x="320.9" y="234.2" font-size="25">0</text>
<text x="273.4" y="263.9" font-size="25" font-style="italic">m</text><path d="M298.7,255.7H314.5M298.7,260.9H314.5" stroke="#000" stroke-width="1.25"/><text x="320.9" y="263.9" font-size="25">1</text>
<text x="273.4" y="293.0" font-size="25" font-style="italic">m</text><path d="M298.7,284.8H314.5M298.7,290.0H314.5" stroke="#000" stroke-width="1.25"/><text x="320.9" y="293.0" font-size="25">2</text>
<text x="419.4" y="231.4" font-size="25" font-style="italic">m</text><path d="M444.7,223.2H460.5M444.7,228.4H460.5" stroke="#000" stroke-width="1.25"/><text x="466.9" y="231.4" font-size="25">3</text>
<text x="419.4" y="261.0" font-size="25" font-style="italic">m</text><path d="M444.7,252.8H460.5M444.7,258.0H460.5" stroke="#000" stroke-width="1.25"/><text x="466.9" y="261.0" font-size="25">4</text>
<text x="417.6" y="295.0" font-size="26.3">Total</text>
<text x="95.8" y="309.1" font-size="17.5" text-anchor="end">10</text><path d="M68.0,304.8H77.0" stroke="#000" stroke-width="1.15"/><text x="67.6" y="319.4" font-size="25" text-anchor="end">10</text>
<text x="95.8" y="263.7" font-size="17.5" text-anchor="end">9</text><path d="M76.8,259.4H85.8" stroke="#000" stroke-width="1.15"/><text x="76.3" y="274.0" font-size="25" text-anchor="end">10</text>
<text x="95.8" y="218.3" font-size="17.5" text-anchor="end">8</text><path d="M76.8,214.0H85.8" stroke="#000" stroke-width="1.15"/><text x="76.3" y="228.6" font-size="25" text-anchor="end">10</text>
<text x="95.8" y="172.9" font-size="17.5" text-anchor="end">7</text><path d="M76.8,168.6H85.8" stroke="#000" stroke-width="1.15"/><text x="76.3" y="183.2" font-size="25" text-anchor="end">10</text>
<text x="95.8" y="127.4" font-size="17.5" text-anchor="end">6</text><path d="M76.8,123.1H85.8" stroke="#000" stroke-width="1.15"/><text x="76.3" y="137.7" font-size="25" text-anchor="end">10</text>
<text x="95.8" y="82.0" font-size="17.5" text-anchor="end">5</text><path d="M76.8,77.7H85.8" stroke="#000" stroke-width="1.15"/><text x="76.3" y="92.3" font-size="25" text-anchor="end">10</text>
<text x="95.8" y="36.6" font-size="17.5" text-anchor="end">4</text><path d="M76.8,32.3H85.8" stroke="#000" stroke-width="1.15"/><text x="76.3" y="46.9" font-size="25" text-anchor="end">10</text>
<text x="650.3" y="324.7" font-size="17.5" text-anchor="end">8</text><path d="M631.2,320.9H640.2" stroke="#000" stroke-width="1.15"/><text x="630.9" y="334.9" font-size="25" text-anchor="end">10</text>
<text x="650.3" y="286.7" font-size="17.5" text-anchor="end">7</text><path d="M631.2,282.9H640.2" stroke="#000" stroke-width="1.15"/><text x="630.9" y="296.9" font-size="25" text-anchor="end">10</text>
<text x="650.3" y="248.7" font-size="17.5" text-anchor="end">6</text><path d="M631.2,244.9H640.2" stroke="#000" stroke-width="1.15"/><text x="630.9" y="258.9" font-size="25" text-anchor="end">10</text>
<text x="650.3" y="210.7" font-size="17.5" text-anchor="end">5</text><path d="M631.2,206.9H640.2" stroke="#000" stroke-width="1.15"/><text x="630.9" y="220.9" font-size="25" text-anchor="end">10</text>
<text x="650.3" y="172.7" font-size="17.5" text-anchor="end">4</text><path d="M631.2,168.9H640.2" stroke="#000" stroke-width="1.15"/><text x="630.9" y="182.9" font-size="25" text-anchor="end">10</text>
<text x="650.3" y="134.7" font-size="17.5" text-anchor="end">3</text><path d="M631.2,130.9H640.2" stroke="#000" stroke-width="1.15"/><text x="630.9" y="144.9" font-size="25" text-anchor="end">10</text>
<text x="650.3" y="96.7" font-size="17.5" text-anchor="end">2</text><path d="M631.2,92.9H640.2" stroke="#000" stroke-width="1.15"/><text x="630.9" y="106.9" font-size="25" text-anchor="end">10</text>
<text x="650.3" y="58.7" font-size="17.5" text-anchor="end">1</text><path d="M631.2,54.9H640.2" stroke="#000" stroke-width="1.15"/><text x="630.9" y="68.9" font-size="25" text-anchor="end">10</text>
<text x="650.3" y="20.7" font-size="17.5" text-anchor="end">0</text><text x="641.2" y="30.9" font-size="25" text-anchor="end">10</text>
<text x="104.8" y="349.3" font-size="25" text-anchor="middle">1100</text>
<text x="280.0" y="349.3" font-size="25" text-anchor="middle">1150</text>
<text x="455.2" y="349.3" font-size="25" text-anchor="middle">1200</text>
<text x="657.5" y="349.3" font-size="25" text-anchor="middle">1100</text>
<text x="766.6" y="349.3" font-size="25" text-anchor="middle">1150</text>
<text x="875.7" y="349.3" font-size="25" text-anchor="middle">1200</text>
<text x="984.8" y="349.3" font-size="25" text-anchor="middle">1250</text>
<text x="1093.9" y="349.3" font-size="25" text-anchor="middle">1300</text>
<text x="312.1" y="386.5" font-size="30" font-style="italic">t</text>
<text x="874.1" y="386.2" font-size="30" font-style="italic">t</text>
<text x="0.3" y="31.7" font-size="28">(<tspan font-style="italic" dx="0.6">a</tspan><tspan dx="0.9">)</tspan></text>
<text x="558" y="31.7" font-size="28">(<tspan font-style="italic" dx="0.6">b</tspan><tspan dx="0.9">)</tspan></text>
<text transform="translate(29.3,205.95) rotate(-90)" font-size="30" font-style="italic" class="nb">M</text>
<text transform="translate(33.2,180.5) rotate(-90)" font-size="17" font-style="italic" class="nb">m</text>
<text transform="translate(29,163.4) rotate(-90)" font-size="28">(<tspan font-style="italic">t</tspan>)</text>
</svg></body></html>
